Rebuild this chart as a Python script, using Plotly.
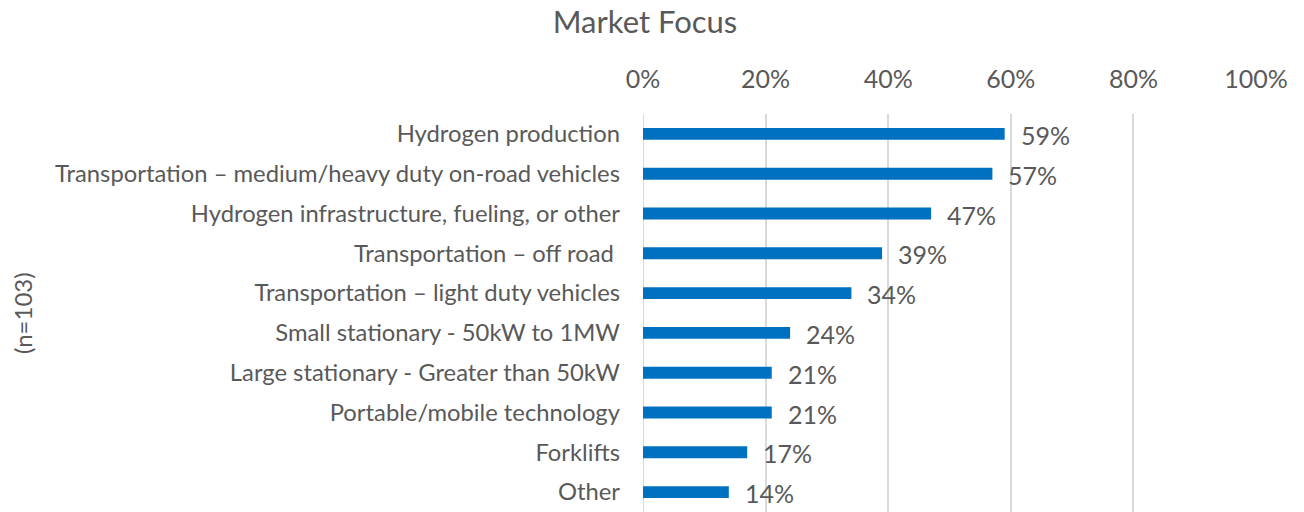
import plotly.graph_objects as go

categories = [
    "Hydrogen production",
    "Transportation – medium/heavy duty on-road vehicles",
    "Hydrogen infrastructure, fueling, or other",
    "Transportation – off road\u00a0",
    "Transportation – light duty vehicles",
    "Small stationary - 50kW to 1MW",
    "Large stationary - Greater than 50kW",
    "Portable/mobile technology",
    "Forklifts",
    "Other",
]
values = [59, 57, 47, 39, 34, 24, 21, 21, 17, 14]
x_ticks = [0, 20, 40, 60, 80, 100]
x_tick_labels = ["0%", "20%", "40%", "60%", "80%", "100%"]

FONT = "Lato"
GRAY = "#595959"

# the page body has an 8px default margin, so the figure is 8px smaller
W, H = 1296, 504

fig = go.Figure()
fig.add_trace(go.Bar(
    x=values,
    y=categories,
    orientation="h",
    width=0.3,
    marker=dict(color="#0070C0", line=dict(width=0)),
    hoverinfo="skip",
))

for c, v in zip(categories, values):
    fig.add_annotation(
        x=v, y=c, text=f"{v}%", showarrow=False,
        xanchor="left", xshift=14, yshift=-1,
        font=dict(family=FONT, size=25, color=GRAY),
    )

fig.add_annotation(
    text="(n=103)", textangle=-90, showarrow=False,
    xref="paper", yref="paper", x=(22 - 643) / 613, y=0.5,
    xanchor="center", yanchor="middle",
    font=dict(family=FONT, size=24, color=GRAY),
)

fig.add_shape(
    type="line", xref="x", yref="paper", x0=0, x1=0, y0=0, y1=1,
    line=dict(color="#d9d9d9", width=2), layer="below",
)

fig.update_layout(
    width=W, height=H,
    margin=dict(l=635, r=48, t=106, b=0),
    paper_bgcolor="white", plot_bgcolor="white",
    showlegend=False,
    title=dict(
        text="Market Focus", x=637 / W, xanchor="center", xref="container",
        y=1 - 14 / H, yanchor="middle", yref="container",
        font=dict(family=FONT, size=31, color=GRAY),
    ),
    xaxis=dict(
        side="top", range=[0, 100], tickvals=x_ticks, ticktext=x_tick_labels,
        showgrid=True, gridcolor="#d9d9d9", gridwidth=2,
        zeroline=False, showline=False, ticks="",
        ticklabelstandoff=20, automargin=False,
        tickfont=dict(family=FONT, size=25, color=GRAY),
    ),
    yaxis=dict(
        autorange="reversed", showgrid=False, zeroline=False,
        showline=False, ticks="", ticklabelstandoff=22, automargin=False,
        tickfont=dict(family=FONT, size=23.8, color=GRAY),
    ),
    bargap=0.7,
)

fig.write_html("out.html")
